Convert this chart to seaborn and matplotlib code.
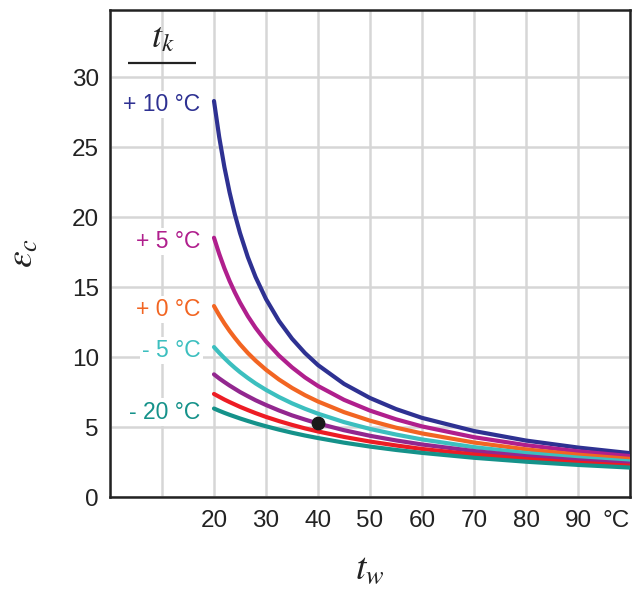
import pandas as pd
import matplotlib
matplotlib.use("Agg")
import matplotlib.pyplot as plt
import seaborn as sns

# t_w values (x) and epsilon_c
tw = [20, 21, 22, 23, 24, 25, 26.5, 28, 30, 32.5, 35, 37.5, 40, 45, 50, 55, 60, 70, 80, 90, 100]
eps_p10 = [28.3, 25.73, 23.58, 21.77, 20.21, 18.87, 17.15, 15.72, 14.15, 12.58, 11.32, 10.29, 9.43,
           8.09, 7.08, 6.29, 5.66, 4.72, 4.04, 3.54, 3.14]
eps_p5 = [18.53, 17.38, 16.35, 15.44, 14.63, 13.9, 12.93, 12.09, 11.12, 10.11, 9.27, 8.55, 7.94,
          6.95, 6.18, 5.56, 5.05, 4.28, 3.71, 3.27, 2.93]
eps_0 = [13.65, 13.0, 12.41, 11.87, 11.38, 10.92, 10.3, 9.75, 9.1, 8.4, 7.8, 7.28, 6.83,
         6.07, 5.46, 4.96, 4.55, 3.9, 3.41, 3.03, 2.73]
eps_m5 = [10.72, 10.31, 9.93, 9.57, 9.24, 8.93, 8.51, 8.12, 7.66, 7.15, 6.7, 6.31, 5.96,
          5.36, 4.87, 4.47, 4.12, 3.57, 3.15, 2.82, 2.55]
eps_m10 = [8.77, 8.48, 8.22, 7.97, 7.74, 7.51, 7.21, 6.92, 6.58, 6.19, 5.84, 5.54, 5.26,
           4.78, 4.38, 4.05, 3.76, 3.29, 2.92, 2.63, 2.39]
eps_m15 = [7.37, 7.17, 6.97, 6.79, 6.62, 6.45, 6.22, 6.0, 5.73, 5.43, 5.16, 4.91, 4.69,
           4.3, 3.97, 3.69, 3.44, 3.04, 2.72, 2.46, 2.24]
eps_m20 = [6.33, 6.17, 6.02, 5.88, 5.75, 5.62, 5.44, 5.27, 5.06, 4.82, 4.6, 4.4, 4.22,
           3.89, 3.61, 3.37, 3.16, 2.81, 2.53, 2.3, 2.11]

tk_names = ["+10", "+5", "0", "-5", "-10", "-15", "-20"]
series = [eps_p10, eps_p5, eps_0, eps_m5, eps_m10, eps_m15, eps_m20]
colors = ["#2e3192", "#b01f8d", "#f26522", "#3cbfbf", "#92278f", "#ed1c24", "#15928a"]

# labelled curves on the left
label_texts = {"+10": "+ 10 °C", "+5": "+ 5 °C", "0": "+ 0 °C", "-5": "- 5 °C", "-20": "- 20 °C"}

# operating point
point_x = [40]
point_y = [5.26]

xticks = [0, 10, 20, 30, 40, 50, 60, 70, 80, 90, 100]
xticklabels = ["", "", "20", "30", "40", "50", "60", "70", "80", "90", "°C"]
yticks = [0, 5, 10, 15, 20, 25, 30]

rows = []
for name, vals in zip(tk_names, series):
    for x, y in zip(tw, vals):
        rows.append({"tw": x, "eps": y, "tk": name})
df = pd.DataFrame(rows)

sns.set_style("white")
plt.rcParams["font.family"] = ["Liberation Sans", "DejaVu Sans"]
plt.rcParams["mathtext.fontset"] = "stix"

fig = plt.figure(figsize=(6.43, 5.89), dpi=100)
ax = fig.add_axes([0.171, 0.156, 0.809, 0.827])

ax.set_xticks(xticks)
ax.set_yticks(yticks)
ax.grid(True, color="#d6d6d6", linewidth=1.8, zorder=0)
ax.set_axisbelow(True)

sns.lineplot(data=df, x="tw", y="eps", hue="tk", hue_order=tk_names,
             palette=colors, linewidth=3.0, legend=False, ax=ax, zorder=3)

ax.scatter(point_x, point_y, s=80, color="#1a1a1a", zorder=5)

for name, vals, c in zip(tk_names, series, colors):
    if name in label_texts:
        ax.text(17.4, vals[0] - 0.25, label_texts[name], color=c, fontsize=16.5,
                ha="right", va="center", zorder=4,
                bbox=dict(facecolor="white", edgecolor="none", pad=1.5))

# header t_k with rule underneath
ax.text(10.2, 32.8, r"$t_k$", fontsize=26, ha="center", va="center", color="#222222")
ax.plot([3.5, 16.6], [31.0, 31.0], color="#222222", linewidth=1.6,
        solid_capstyle="butt", zorder=4, clip_on=False)

ax.set_xlim(0, 100)
ax.set_ylim(0, 34.8)
ax.set_xticklabels(xticklabels)
ax.get_xticklabels()[-1].set_horizontalalignment("right")
ax.tick_params(axis="both", length=0, labelsize=17.5, colors="#222222")
ax.tick_params(axis="x", pad=9)
ax.tick_params(axis="y", pad=8)

ax.set_xlabel(r"$t_w$", fontsize=27, labelpad=14, color="#222222")
ax.set_ylabel(r"$\varepsilon_c$", fontsize=27, labelpad=22, color="#222222")

for sp in ax.spines.values():
    sp.set_visible(True)
    sp.set_color("#222222")
    sp.set_linewidth(1.8)

fig.savefig("out.png", dpi=100)
